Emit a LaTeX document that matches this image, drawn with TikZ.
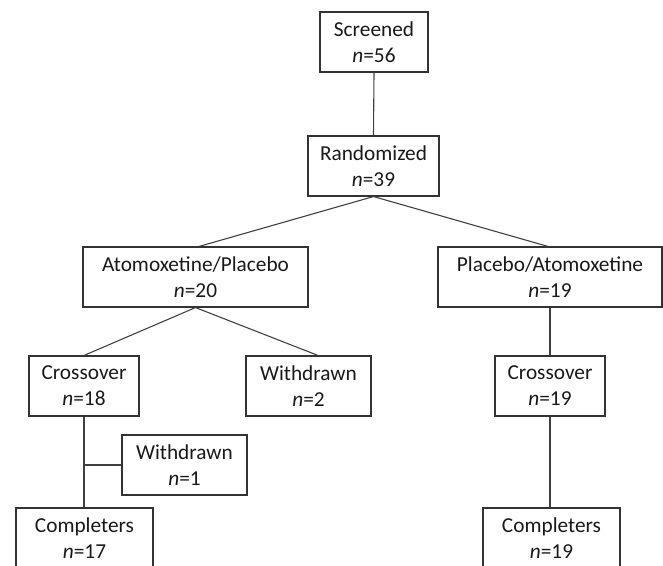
\documentclass[tikz,border=0pt]{standalone}
\usepackage{fontspec}
\setmainfont{Carlito}
\begin{document}
\begin{tikzpicture}[x=1pt,y=-1pt,
  box/.style={draw=black!80, line width=1.1pt, minimum height=60pt, inner sep=0pt, align=center, text=black!90, font=\fontsize{21.3}{26}\selectfont},
  link/.style={draw=black!75, line width=1.1pt}]
\useasboundingbox (0,0) rectangle (663,565);
\node[box, minimum width=108pt] (scr) at (374,42) {Screened\\\textit{n}=56};
\node[box, minimum width=131pt] (ran) at (373.5,166) {Randomized\\\textit{n}=39};
\node[box, minimum width=225pt] (ap) at (195.5,277) {Atomoxetine/Placebo\\\textit{n}=20};
\node[box, minimum width=224pt] (pa) at (550,277) {Placebo/Atomoxetine\\\textit{n}=19};
\node[box, minimum width=110pt] (co1) at (84,386) {Crossover\\\textit{n}=18};
\node[box, minimum width=125pt] (w2) at (308.5,386) {Withdrawn\\\textit{n}=2};
\node[box, minimum width=125pt] (w1) at (184.5,465) {Withdrawn\\\textit{n}=1};
\node[box, minimum width=137pt] (c1) at (84.5,538) {Completers\\\textit{n}=17};
\node[box, minimum width=110pt] (co2) at (550,386) {Crossover\\\textit{n}=19};
\node[box, minimum width=137pt] (c2) at (551.5,538) {Completers\\\textit{n}=19};
\draw[link] (scr.south) -- (ran.north);
\draw[link] (ran.south) -- ([xshift=3.5pt]ap.north);
\draw[link] (ran.south) -- ([xshift=-2pt]pa.north);
\draw[link] (ap.south) -- (co1.north);
\draw[link] (ap.south) -- ([xshift=9.5pt]w2.north);
\draw[link] (pa.south) -- (co2.north);
\draw[link] (co2.south) -- (co2.south |- c2.north);
\draw[link] (co1.south) -- (c1.north -| co1.south);
\draw[link] (w1.west) -- (w1.west -| co1.south);
\end{tikzpicture}
\end{document}
